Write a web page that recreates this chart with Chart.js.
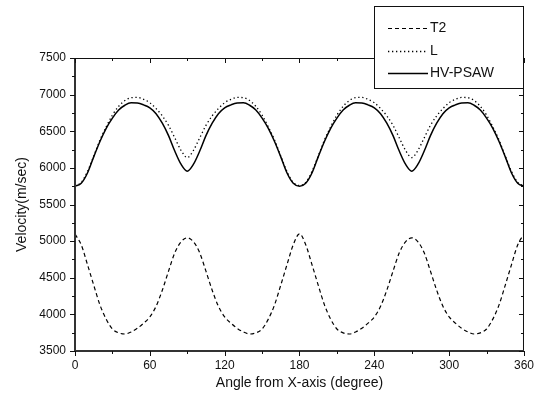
<!DOCTYPE html>
<html><head><meta charset="utf-8">
<script src="https://cdn.jsdelivr.net/npm/chart.js@4.4.0/dist/chart.umd.min.js"></script>
<style>html,body{margin:0;padding:0;background:#fff}#c{display:block}</style>
</head><body>
<canvas id="c" width="541" height="403"></canvas>
<script>
const angles = [0,5,10,15,20,25,30,35,40,45,50,55,60,65,70,75,80,85,90,95,100,105,110,115,120,125,130,135,140,145,150,155,160,165,170,175,180,185,190,195,200,205,210,215,220,225,230,235,240,245,250,255,260,265,270,275,280,285,290,295,300,305,310,315,320,325,330,335,340,345,350,355,360];
const t2 = [5095,4950,4680,4400,4130,3935,3800,3748,3732,3760,3810,3880,3965,4110,4330,4590,4840,4990,5045,4990,4840,4590,4330,4110,3965,3880,3810,3760,3732,3748,3800,3935,4130,4400,4680,4950,5100,4950,4680,4400,4130,3935,3800,3748,3732,3760,3810,3880,3965,4110,4330,4590,4840,4990,5045,4990,4840,4590,4330,4110,3965,3880,3810,3760,3732,3748,3800,3935,4130,4400,4680,4950,5095];
const lWave = [5755,5800,5950,6160,6380,6560,6720,6840,6920,6958,6962,6935,6890,6810,6710,6580,6410,6240,6140,6240,6410,6580,6710,6810,6890,6935,6962,6958,6920,6840,6720,6560,6380,6160,5950,5800,5760,5800,5950,6160,6380,6560,6720,6840,6920,6958,6962,6935,6890,6810,6710,6580,6410,6240,6140,6240,6410,6580,6710,6810,6890,6935,6962,6958,6920,6840,6720,6560,6380,6160,5950,5800,5755];
const hvPsaw = [5750,5790,5930,6150,6360,6540,6680,6790,6855,6888,6885,6860,6820,6740,6610,6440,6230,6050,5955,6050,6230,6440,6610,6740,6820,6860,6885,6888,6855,6790,6680,6540,6360,6150,5930,5790,5750,5790,5930,6150,6360,6540,6680,6790,6855,6888,6885,6860,6820,6740,6610,6440,6230,6050,5955,6050,6230,6440,6610,6740,6820,6860,6885,6888,6855,6790,6680,6540,6360,6150,5930,5790,5750];
const xTicks = [0,60,120,180,240,300,360];
const yTicks = [3500,4000,4500,5000,5500,6000,6500,7000,7500];
const seriesNames = ['T2','L','HV-PSAW'];

const FONT = '"Liberation Sans", Arial, sans-serif';
const toPts = arr => arr.map((v,i)=>({x:angles[i], y:v}));

const framePlugin = {
  id:'frame',
  afterDraw(chart){
    const ctx = chart.ctx, a = chart.chartArea;
    const xs = chart.scales.x, ys = chart.scales.y;
    ctx.save();
    ctx.strokeStyle = '#111';
    ctx.lineWidth = 1;
    ctx.beginPath();
    ctx.moveTo(a.left, a.top+0.5); ctx.lineTo(a.right, a.top+0.5);
    ctx.moveTo(a.right-0.5, a.top); ctx.lineTo(a.right-0.5, a.bottom);
    ctx.stroke();
    ctx.strokeStyle = '#333';
    ctx.lineWidth = 2;
    ctx.beginPath();
    ctx.moveTo(a.left, a.top); ctx.lineTo(a.left, a.bottom+1);
    ctx.moveTo(a.left-1, a.bottom); ctx.lineTo(a.right, a.bottom);
    ctx.stroke();
    ctx.strokeStyle = '#111';
    ctx.lineWidth = 1;
    ctx.beginPath();
    for (let v = 0; v <= 360; v += 30) {
      const px = Math.round(xs.getPixelForValue(v)) + 0.5;
      const len = v % 60 === 0 ? 5 : 3;
      ctx.moveTo(px, a.bottom); ctx.lineTo(px, a.bottom + len);
      ctx.moveTo(px, a.top); ctx.lineTo(px, a.top + len);
    }
    for (let v = 3500; v <= 7500; v += 250) {
      const py = Math.round(ys.getPixelForValue(v)) + 0.5;
      const len = v % 500 === 0 ? 5 : 3;
      ctx.moveTo(a.left - len, py); ctx.lineTo(a.left, py);
      ctx.moveTo(a.right, py); ctx.lineTo(a.right - len, py);
    }
    ctx.stroke();
    const L = {x:374.5, y:6.5, w:149, h:82};
    ctx.fillStyle = '#fff';
    ctx.fillRect(L.x, L.y, L.w, L.h);
    ctx.strokeStyle = '#111';
    ctx.lineWidth = 1;
    ctx.strokeRect(L.x, L.y, L.w, L.h);
    const rows = [28, 51, 73];
    chart.data.datasets.forEach((ds, i) => {
      const y = Math.round(rows[i]) + 0.5;
      ctx.save();
      ctx.strokeStyle = '#000';
      ctx.lineWidth = ds.borderWidth;
      ctx.setLineDash(ds.borderDash || []);
      ctx.beginPath();
      ctx.moveTo(388, y); ctx.lineTo(428, y);
      ctx.stroke();
      ctx.restore();
      ctx.fillStyle = '#111';
      ctx.font = '14px ' + FONT;
      ctx.textBaseline = 'middle';
      ctx.textAlign = 'left';
      ctx.fillText(ds.label, 430, rows[i] + 0.5);
    });
    ctx.restore();
  }
};

new Chart(document.getElementById('c'), {
  type: 'line',
  data: {
    datasets: [
      {label: seriesNames[0], data: toPts(t2), borderColor:'#000', borderWidth:1.2, borderDash:[4,3], pointRadius:0, cubicInterpolationMode:'monotone', fill:false},
      {label: seriesNames[1], data: toPts(lWave), borderColor:'#000', borderWidth:1.3, borderDash:[1.3,2.7], pointRadius:0, cubicInterpolationMode:'monotone', fill:false},
      {label: seriesNames[2], data: toPts(hvPsaw), borderColor:'#000', borderWidth:1.5, pointRadius:0, cubicInterpolationMode:'monotone', fill:false}
    ]
  },
  options: {
    responsive: false,
    animation: false,
    devicePixelRatio: 1,
    layout: {padding: {top: 58, right: 17, left: 0, bottom: 0}},
    plugins: {legend: {display:false}, tooltip: {enabled:false}},
    scales: {
      x: {
        type: 'linear', min: 0, max: 360,
        afterBuildTicks: s => { s.ticks = xTicks.map(v => ({value:v})); },
        afterFit: s => { s.height = 52; },
        grid: {display:false, drawTicks:false},
        border: {display:false},
        ticks: {padding: 7, color:'#111', font:{family:FONT, size:12}, maxRotation:0, autoSkip:false, callback: v => String(v)},
        title: {display:true, text:'Angle from X-axis (degree)', color:'#111', font:{family:FONT, size:14}, padding:{top:0, bottom:11}}
      },
      y: {
        type: 'linear', min: 3500, max: 7500,
        afterBuildTicks: s => { s.ticks = yTicks.map(v => ({value:v})); },
        afterFit: s => { s.width = 75; },
        grid: {display:false, drawTicks:false},
        border: {display:false},
        ticks: {padding: 9, color:'#111', font:{family:FONT, size:12}, autoSkip:false, callback: v => String(v)},
        title: {display:true, text:'Velocity(m/sec)', color:'#111', font:{family:FONT, size:14}, padding:{top:14, bottom:0}}
      }
    }
  },
  plugins: [framePlugin]
});
</script>
</body></html>
